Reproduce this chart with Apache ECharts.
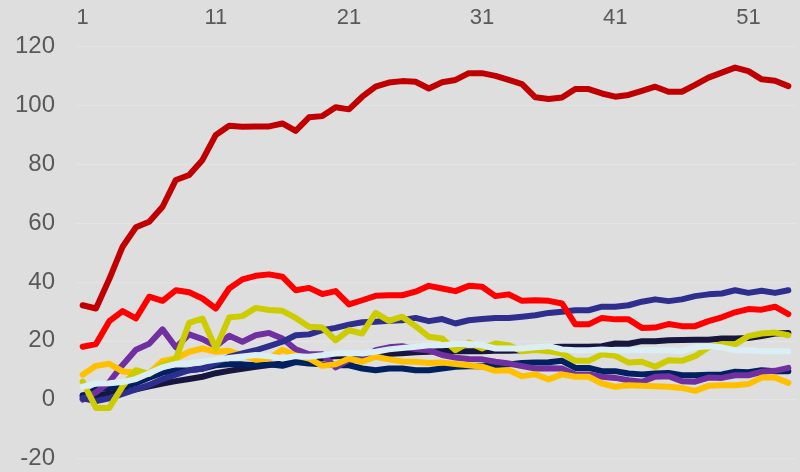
<!DOCTYPE html>
<html>
<head>
<meta charset="utf-8">
<script src="https://cdn.jsdelivr.net/npm/echarts@6/dist/echarts.min.js"></script>
<style>
html,body{margin:0;padding:0;background:#dedede;}
#chart{width:800px;height:472px;}
</style>
</head>
<body>
<div id="chart"></div>
<script>
var categories = [];
for (var i = 1; i <= 54; i++) categories.push(String(i));

var darkRed = [32.1,31,41,52,58.6,60.5,65.6,74.7,76.4,81.5, 90,93.1,92.8,92.9,92.9,93.9,91.4,96,96.4,99.4, 98.7,103,106.4,107.8,108.3,108.1,105.8,107.9,108.7,111, 111,110.1,108.7,107.3,102.8,102.2,102.7,105.6,105.6,104.1, 103,103.6,105,106.4,104.7,104.7,107,109.5,111.2,112.9, 111.7,108.9,108.4,106.6];
var red = [18,18.9,26.7,30.1,27.6,35,33.6,37.2,36.5,34.4, 31,37.8,40.9,42.1,42.6,41.8,37.2,38,35.9,36.9, 32.4,33.8,35.3,35.5,35.5,36.7,38.7,37.8,36.9,38.7, 38.4,35.2,35.8,33.6,33.8,33.6,32.7,25.6,25.6,27.8, 27.3,27.3,24.4,24.5,25.7,25,25,26.7,28,29.7, 30.8,30.6,31.6,29.1];
var indigo = [0.5,-0.5,0.5,2,3.5,5,7,8.5,10,10.5, 12.5,14.5,15.7,16.8,18.2,19.7,21.9,22.2,23.6,24.4, 25.5,26.3,26.5,26.8,27,27.8,26.7,27.4,25.9,27, 27.4,27.8,27.8,28.2,28.7,29.5,29.9,30.4,30.4,31.6, 31.6,32.1,33.3,34.1,33.5,34.1,35.2,35.8,36.1,37.2, 36.3,37,36.3,37.2];
var yellow = [6.1,-2.8,-2.8,4.5,10,8.7,11.8,13.8,26.1,27.6, 17.4,27.9,28.4,31.2,30.5,30.2,27.8,24.8,24.5,20.2, 23.6,22.5,29.5,26.8,28.2,25,21.4,20.8,16.8,19.4, 17.4,19.1,18.5,16.5,16.9,16.5,15.7,13.2,13.2,15.4, 14.9,12.6,12.9,11.2,13.4,13.2,14.8,17.8,18.9,18.8, 21.6,22.5,22.8,21.9];
var purple = [0,2.5,6,11.8,17,19,23.9,17.8,22.2,20.6, 18.2,21.7,19.7,21.9,22.7,20.8,17.1,15.4,15.4,11, 13.5,13.7,16.8,17.8,18.2,17.2,16.8,15.2,14.3,13.8, 13.7,12.9,12.3,11.4,10.6,10.7,10.6,8.6,8.6,7.8, 7.4,6.6,6.1,7.8,8,6.3,6.1,7.5,7.4,8.3, 8.3,9.5,9.8,10.8];
var orange = [8.5,11.5,12.2,9.6,9.2,9,13.2,14,16.3,17.4, 16.3,16.6,15.1,13.6,14,17,15,14,11.5,12, 14,12.9,14.6,13.7,13,12.9,12.5,12.6,12.1,11.7, 11.2,9.8,10,8,8.6,6.9,8.6,7.8,7.8,5.5, 4.4,4.9,4.7,4.6,4.4,4,3,4.7,4.9,4.9, 5.3,7.5,7.5,5.7];
var cyan = [4.4,5.5,5.6,6,7,9,11,12.2,12.4,12.9, 13.6,14.2,14.7,15.2,14.8,14,14.8,14.6,15.1,15.7, 15.9,15.7,16.3,17.1,17.6,18,18.5,18.5,18.9,18.9, 18.5,17.4,17.4,17.4,17.8,18.2,17.1,16.8,16.8,17.1, 16.8,16.8,16.8,16.8,16.8,16.5,17.8,18.2,17.8,16.8, 16.8,16.5,16.5,16.5];
var navy = [1.2,3.5,4,4.6,5.6,7.5,9.2,9.9,10,10.6, 11.7,12,12,11.7,12,11.5,12.8,12.3,12,11.7, 11.7,10.6,10,10.6,10.6,10,10,10.6,11.2,11.4, 11.4,11.7,12,12.5,12.6,12.7,13.2,10.8,10.8,9.7, 9.7,8.9,8.6,8.9,9.1,8.3,8.3,8.5,8.6,9.5, 9.3,10,9.7,9.7];
var darkNavy = [1.5,1.5,2,2.8,3.5,4.5,5.5,6.3,7,7.8, 9,9.8,10.5,11.2,11.8,12.3,13,13.6,14.2,14.8, 15,15.2,15.4,15.6,15.8,16.1,16.3,16.6,16.5,16.5, 16.5,16.6,16.6,16.8,17.3,17.8,18,18,18,18.2, 19.1,19,19.9,19.9,20.2,20.3,20.4,20.4,20.8,20.8, 21,21.6,22.5,22.7];

var seriesDefs = [
  {name:'s9', data:darkNavy, color:'#16163f'},
  {name:'s8', data:navy, color:'#002060'},
  {name:'s5', data:purple, color:'#7030a0'},
  {name:'s6', data:orange, color:'#ffc000'},
  {name:'s3', data:indigo, color:'#2e2e8e'},
  {name:'s4', data:yellow, color:'#cccc00'},
  {name:'s7', data:cyan, color:'#daeef3'},
  {name:'s2', data:red, color:'#ff0000'},
  {name:'s1', data:darkRed, color:'#c00000'}
];

var chart = echarts.init(document.getElementById('chart'));
chart.setOption({
  backgroundColor:'#dedede',
  animation:false,
  grid:{left:76,right:5,top:46.7,bottom:13.5,containLabel:false,outerBoundsMode:'none'},
  xAxis:{
    type:'category',
    position:'top',
    data:categories,
    boundaryGap:true,
    axisLine:{show:false},
    axisTick:{show:false},
    splitLine:{show:false},
    axisLabel:{interval:9,color:'#595959',fontSize:22,fontFamily:'Liberation Sans, Arial',margin:18}
  },
  yAxis:{
    type:'value',
    min:-20,max:120,interval:20,
    axisLine:{show:false},
    axisTick:{show:false},
    splitLine:{lineStyle:{color:'#e4e4e4',width:1}},
    axisLabel:{color:'#595959',fontSize:24,fontFamily:'Liberation Sans, Arial',margin:21}
  },
  series:seriesDefs.map(function(s){
    return {
      name:s.name,type:'line',data:s.data,showSymbol:false,symbol:'none',
      lineStyle:{color:s.color,width:6,cap:'round',join:'round'},
      itemStyle:{color:s.color}
    };
  })
});
</script>
</body>
</html>
